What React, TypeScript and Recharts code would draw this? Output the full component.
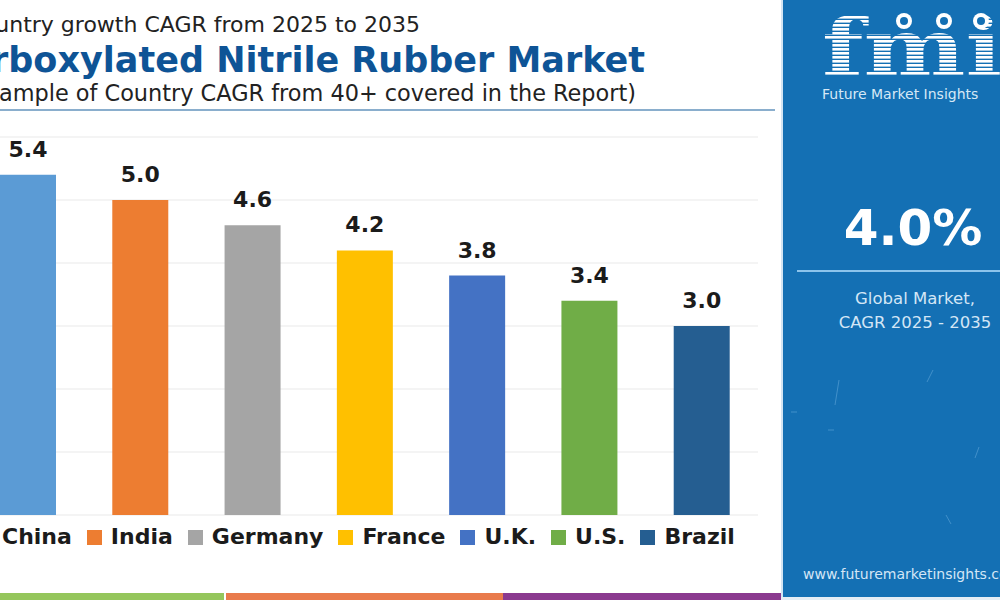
import React from 'react';
import { BarChart, Bar, XAxis, YAxis, CartesianGrid, Cell, LabelList } from 'recharts';

const countries = ['China', 'India', 'Germany', 'France', 'U.K.', 'U.S.', 'Brazil'];
const cagrValues = [5.4, 5.0, 4.6, 4.2, 3.8, 3.4, 3.0];
const barColors = ['#5b9bd5', '#ed7d31', '#a5a5a5', '#ffc000', '#4472c4', '#70ad47', '#255e91'];
const yTicks = [0, 1, 2, 3, 4, 5, 6];

const titleTop = 'Country growth CAGR from 2025 to 2035';
const titleMain = 'Carboxylated Nitrile Rubber Market';
const titleSub = '(Sample of Country CAGR from 40+ covered in the Report)';
const globalCagr = '4.0%';
const globalLabel = ['Global Market,', 'CAGR 2025 - 2035'];

const data = countries.map((country, i) => ({ country, cagr: cagrValues[i] }));

const FONT = '"DejaVu Sans", sans-serif';

const Legend: React.FC = () => (
  <div
    style={{
      position: 'absolute',
      left: -22,
      top: 526,
      display: 'flex',
      alignItems: 'center',
      height: 22,
      whiteSpace: 'nowrap',
    }}
  >
    {countries.map((c, i) => (
      <div key={c} style={{ display: 'flex', alignItems: 'center', marginRight: 15 }}>
        <span style={{ width: 15, height: 15, background: barColors[i], marginRight: 9 }} />
        <span style={{ fontFamily: FONT, fontWeight: 'bold', fontSize: 22, lineHeight: '22px', color: '#1b1b1b' }}>
          {c}
        </span>
      </div>
    ))}
  </div>
);

const SidePanel: React.FC = () => (
  <svg width={219} height={600} style={{ position: 'absolute', left: 781, top: 0 }}>
    <defs>
      <pattern id="stripes" width={8} height={4} patternUnits="userSpaceOnUse">
        <rect width={8} height={2.6} fill="#ffffff" />
      </pattern>
    </defs>
    <rect x={0} y={0} width={219} height={597} fill="#1470b4" />
    <rect x={0} y={597} width={219} height={3} fill="#e4edf5" />
    <rect x={0} y={0} width={2} height={597} fill="#d3e5f4" />
    {/* faint scratches */}
    <g stroke="#6fb0e0" strokeWidth={1} opacity={0.5}>
      <line x1={58} y1={380} x2={54} y2={405} />
      <line x1={152} y1={370} x2={146} y2={382} />
      <line x1={10} y1={412} x2={16} y2={412} />
      <line x1={47} y1={430} x2={53} y2={430} />
      <line x1={198} y1={447} x2={194} y2={458} />
      <line x1={165} y1={515} x2={170} y2={524} />
    </g>
    <text
      x={41}
      y={76}
      fontFamily='"DejaVu Serif", serif'
      fontWeight="bold"
      fontSize={80}
      textLength={180}
      lengthAdjust="spacingAndGlyphs"
      fill="url(#stripes)"
    >
      fmi
    </text>
    {[123, 163, 200].map((cx) => (
      <g key={cx}>
        <circle cx={cx} cy={21} r={8} fill="#ffffff" />
        <circle cx={cx} cy={21} r={4} fill="#1470b4" />
      </g>
    ))}
    <text x={41} y={99} fontFamily={FONT} fontSize={14} fill="#d6e8f6">
      Future Market Insights
    </text>
    <text x={132} y={245} textAnchor="middle" fontFamily={FONT} fontWeight="bold" fontSize={50} fill="#ffffff">
      {globalCagr}
    </text>
    <line x1={16} y1={271} x2={219} y2={271} stroke="#8cc4ec" strokeWidth={2} />
    {globalLabel.map((t, i) => (
      <text key={t} x={134} y={304 + i * 24} textAnchor="middle" fontFamily={FONT} fontSize={16.5} fill="#d3e6f6">
        {t}
      </text>
    ))}
    <text x={22} y={579} fontFamily={FONT} fontSize={14} fill="#d3e6f6">
      www.futuremarketinsights.com
    </text>
  </svg>
);

const App: React.FC = () => (
  <div
    style={{
      position: 'absolute',
      left: 0,
      top: 0,
      width: 1000,
      height: 600,
      overflow: 'hidden',
      background: '#ffffff',
    }}
  >
    <div style={{ position: 'absolute', left: -28, top: 0 }}>
      <BarChart width={786} height={600} data={data} margin={{ top: 137, right: 0, bottom: 85, left: 0 }}>
        <CartesianGrid vertical={false} stroke="#e9e9e9" />
        <XAxis dataKey="country" hide />
        <YAxis hide domain={[0, 6]} ticks={yTicks} />
        <Bar dataKey="cagr" barSize={56} isAnimationActive={false}>
          {data.map((d, i) => (
            <Cell key={d.country} fill={barColors[i]} />
          ))}
          <LabelList
            dataKey="cagr"
            position="top"
            offset={18}
            formatter={(v: number) => v.toFixed(1)}
            fill="#1b1b1b"
            fontSize={22}
            fontWeight="bold"
            fontFamily={FONT}
          />
        </Bar>
      </BarChart>
    </div>

    <svg width={781} height={120} style={{ position: 'absolute', left: 0, top: 0 }}>
      <text x={420} y={32} textAnchor="end" fontFamily={FONT} fontSize={22} fill="#222222">
        {titleTop}
      </text>
      <text x={645} y={72} textAnchor="end" fontFamily={FONT} fontWeight="bold" fontSize={35} fill="#0e5496">
        {titleMain}
      </text>
      <text x={636} y={101} textAnchor="end" fontFamily={FONT} fontSize={22.4} fill="#222222">
        {titleSub}
      </text>
      <line x1={0} y1={110} x2={775} y2={110} stroke="#8aaecd" strokeWidth={2} />
    </svg>

    <Legend />

    <div style={{ position: 'absolute', left: 0, top: 593, width: 224, height: 7, background: '#95c65c' }} />
    <div style={{ position: 'absolute', left: 226, top: 593, width: 277, height: 7, background: '#e97b4c' }} />
    <div style={{ position: 'absolute', left: 503, top: 593, width: 278, height: 7, background: '#8b3a8f' }} />

    <SidePanel />
  </div>
);

export default App;
